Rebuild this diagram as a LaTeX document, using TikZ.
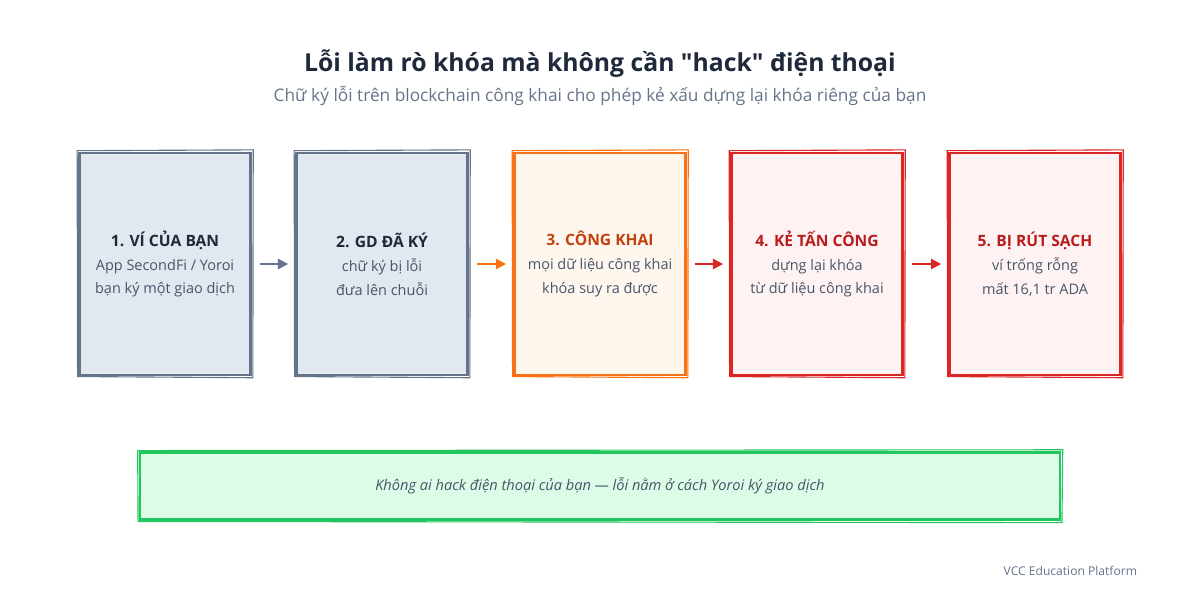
\documentclass[tikz,border=0pt]{standalone}
\usepackage{fontspec}
\setmainfont{Open Sans}
\newfontfamily\quotefont{Open Sans}
\usetikzlibrary{arrows.meta, positioning}

\definecolor{slateline}{HTML}{64748B}
\definecolor{slatefill}{HTML}{E2E8F0}
\definecolor{orangeline}{HTML}{F97316}
\definecolor{orangefill}{HTML}{FFF7ED}
\definecolor{orangetext}{HTML}{C2410C}
\definecolor{redline}{HTML}{DC2626}
\definecolor{redfill}{HTML}{FEF2F2}
\definecolor{redtext}{HTML}{B91C1C}
\definecolor{greenline}{HTML}{22C55E}
\definecolor{greenfill}{HTML}{DCFCE7}
\definecolor{darktext}{HTML}{1E293B}
\definecolor{bodytext}{HTML}{475569}

\begin{document}
\begin{tikzpicture}[
      stage/.style={rectangle, draw, line width=1.6pt, minimum width=4.275cm, minimum height=5.55cm,
                    align=center, text=bodytext, font=\fontsize{10.3}{17}\selectfont},
      slatebox/.style={stage, draw=slateline, fill=slatefill},
      orangebox/.style={stage, draw=orangeline, fill=orangefill},
      redbox/.style={stage, draw=redline, fill=redfill},
      flow/.style={-{Triangle[length=2.6mm,width=2.6mm]}, line width=1.4pt, shorten <=0.2cm, shorten >=0.18cm}]

      \useasboundingbox (0,0) rectangle (30,-15);

      % Title
      \node[font=\bfseries\fontsize{17.6}{22}\selectfont, text=darktext] (title) at (15,-1.58)
        {Lỗi làm rò khóa mà không cần {\quotefont"}hack{\quotefont"} điện thoại};
      \node[font=\fontsize{12.3}{15}\selectfont, text=slateline] (subtitle) at (15,-2.4)
        {Chữ ký lỗi trên blockchain công khai cho phép kẻ xấu dựng lại khóa riêng của bạn};

      % Stages
      \node[slatebox] (wallet) at (4.125,-6.6)
        {{\bfseries\fontsize{11.1}{17}\selectfont\color{darktext}1. VÍ CỦA BẠN}\\App SecondFi / Yoroi\\bạn ký một giao dịch};
      \node[slatebox] (signed) at (9.55,-6.6)
        {{\bfseries\fontsize{11.1}{17}\selectfont\color{darktext}2. GD ĐÃ KÝ}\\chữ ký bị lỗi\\đưa lên chuỗi};
      \node[orangebox] (public) at (15,-6.6)
        {{\bfseries\fontsize{11.1}{17}\selectfont\color{orangetext}3. CÔNG KHAI}\\mọi dữ liệu công khai\\khóa suy ra được};
      \node[redbox] (attacker) at (20.425,-6.6)
        {{\bfseries\fontsize{11.1}{17}\selectfont\color{redtext}4. KẺ TẤN CÔNG}\\dựng lại khóa\\từ dữ liệu công khai};
      \node[redbox] (drained) at (25.875,-6.6)
        {{\bfseries\fontsize{11.1}{17}\selectfont\color{redtext}5. BỊ RÚT SẠCH}\\ví trống rỗng\\mất 16,1 tr ADA};

      % Second rough stroke
      \foreach \n/\c in {wallet/slateline, signed/slateline, public/orangeline, attacker/redline, drained/redline} {
        \draw[\c, line width=0.8pt] ([shift={(-0.03,0.03)}]\n.north west) -- ([shift={(0.04,0.05)}]\n.north east)
          -- ([shift={(0.03,-0.04)}]\n.south east) -- ([shift={(-0.02,-0.01)}]\n.south west) -- cycle;
      }

      % Arrows
      \draw[flow, slateline] (wallet.east) -- (signed.west);
      \draw[flow, orangeline] (signed.east) -- (public.west);
      \draw[flow, redline] (public.east) -- (attacker.west);
      \draw[flow, redline] (attacker.east) -- (drained.west);

      % Note
      \node[rectangle, draw=greenline, fill=greenfill, line width=1.6pt, minimum width=23cm, minimum height=1.675cm,
            text=bodytext, font=\itshape\fontsize{10.4}{12}\selectfont] (note) at (15,-12.15)
        {Không ai hack điện thoại của bạn — lỗi nằm ở cách Yoroi ký giao dịch};
      \draw[greenline, line width=0.8pt] ([shift={(-0.03,0.02)}]note.north west) -- ([shift={(0.04,0.04)}]note.north east)
        -- ([shift={(0.02,-0.05)}]note.south east) -- ([shift={(-0.02,-0.02)}]note.south west) -- cycle;

      \node[anchor=east, font=\fontsize{8.6}{10}\selectfont, text=slateline] (footer) at (28.55,-14.28)
        {VCC Education Platform};
    \end{tikzpicture}
\end{document}
